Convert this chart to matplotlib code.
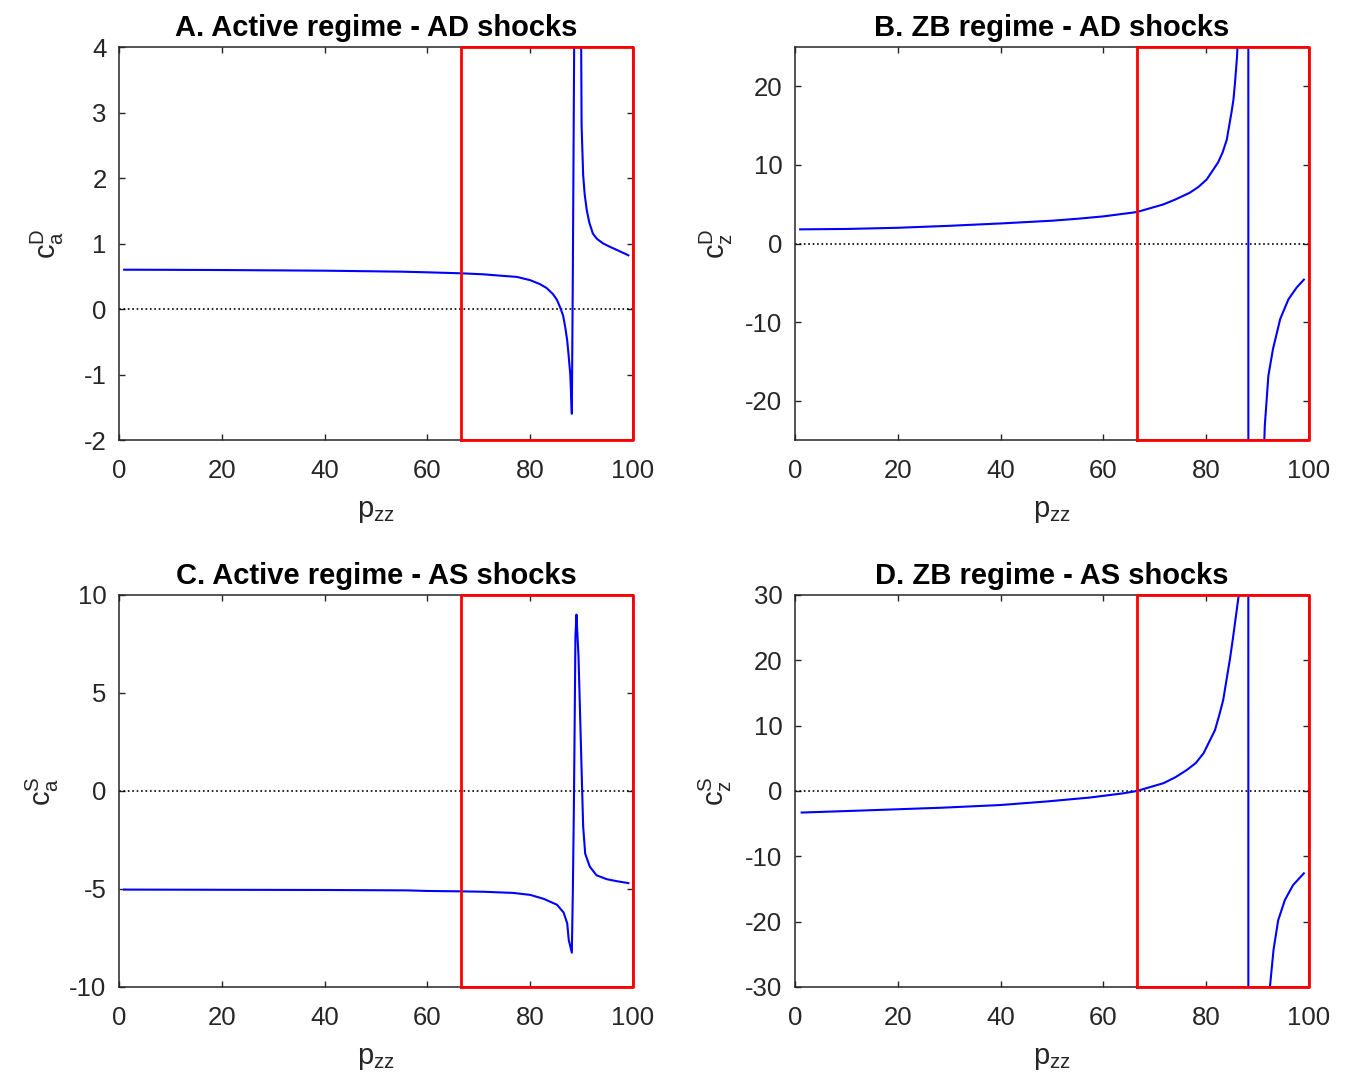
import matplotlib
matplotlib.use("Agg")
import matplotlib.pyplot as plt

plt.rcParams['font.family'] = ['Liberation Sans', 'DejaVu Sans']
plt.rcParams['mathtext.fontset'] = 'custom'
plt.rcParams['mathtext.rm'] = 'Liberation Sans'
plt.rcParams['mathtext.it'] = 'Liberation Sans'
plt.rcParams['mathtext.default'] = 'regular'
plt.rcParams['axes.unicode_minus'] = False

# panel A: active regime, AD shocks
xa = [1, 10, 20, 30, 40, 50, 55, 60, 66.5, 70.8, 74, 77.4, 80, 81.9, 83.2, 84.4,
      85.2, 85.8, 86.4, 86.8, 87.2, 87.5, 87.8, 88.1, 88.3, 88.7, 89.2, 89.85,
      90.0, 90.3, 90.6, 91.0, 91.5, 92.2, 93.0, 94.2, 95.5, 96.9, 98.0, 99.1]
ya = [0.60, 0.598, 0.595, 0.59, 0.585, 0.575, 0.57, 0.56, 0.545, 0.53, 0.51, 0.49,
      0.44, 0.38, 0.32, 0.23, 0.14, 0.03, -0.10, -0.27, -0.48, -0.73, -1.0, -1.6,
      0.6, 6.0, 9.0, 5.0, 2.8, 2.05, 1.75, 1.51, 1.32, 1.15, 1.07, 1.0, 0.95, 0.9,
      0.86, 0.82]

# panel B: ZB regime, AD shocks
xb = [1, 10, 20, 30, 40, 50, 55, 60, 66.5, 71.7, 74, 76.8, 78.5, 80.1, 82.3, 83.2,
      84.0, 84.9, 85.3, 85.6, 86.0, 86.6, 88.1, 88.3, 90.8, 91.4, 92.1, 93.0, 94.4,
      96.0, 97.6, 99.0]
yb = [1.8, 1.85, 2.0, 2.25, 2.55, 2.9, 3.15, 3.45, 4.0, 4.98, 5.6, 6.46, 7.2, 8.15,
      10.3, 11.6, 13.2, 16.6, 18.3, 20.4, 23.8, 32, 800, -790, -35, -23.2, -16.8,
      -13.4, -9.6, -7.1, -5.6, -4.6]

# panel C: active regime, AS shocks
xc = [1, 20, 40, 56, 60, 66.5, 70.9, 76.7, 80.0, 82.6, 85.2, 86.5, 87.2, 87.5,
      88.1, 88.3, 88.5, 88.65, 88.8, 89.0, 89.4, 89.7, 90.0, 90.3, 90.7, 91.6,
      92.9, 94.9, 96.8, 99.1]
yc = [-5.03, -5.04, -5.05, -5.07, -5.1, -5.12, -5.14, -5.2, -5.3, -5.5, -5.8, -6.2,
      -6.75, -7.6, -8.25, -5.05, -0.8, 3.45, 7.9, 9.0, 6.85, 3.96, 1.07, -1.8, -3.2,
      -3.86, -4.3, -4.5, -4.6, -4.7]

# panel D: ZB regime, AS shocks
xd = [1.3, 12.6, 28.8, 39.9, 49.0, 57.4, 63.9, 66.5, 71.7, 74, 76.2, 78, 79.5,
      81.7, 82.5, 83.3, 84.6, 85.1, 85.6, 86.3, 86.9, 88.1, 88.3, 91.8, 92.4, 93.1,
      94.0, 95.3, 96.9, 99.0]
yd = [-3.3, -3.0, -2.55, -2.15, -1.6, -1.0, -0.35, 0.0, 1.2, 2.1, 3.2, 4.3, 5.8,
      9.3, 11.5, 13.9, 20.1, 22.8, 25.7, 29.8, 40, 800, -800, -38, -30, -24.3,
      -19.8, -16.7, -14.4, -12.6]

titles = ["A. Active regime - AD shocks", "B. ZB regime - AD shocks",
          "C. Active regime - AS shocks", "D. ZB regime - AS shocks"]
ylabels = [r"$c_a^D$", r"$c_z^D$", r"$c_a^S$", r"$c_z^S$"]
ylims = [(-2, 4), (-25, 25), (-10, 10), (-30, 30)]
yticks = [[-2, -1, 0, 1, 2, 3, 4], [-20, -10, 0, 10, 20],
          [-10, -5, 0, 5, 10], [-30, -20, -10, 0, 10, 20, 30]]
xticks = [0, 20, 40, 60, 80, 100]
box_left = 66.5  # start of the highlighted p_zz range

series = [(xa, ya), (xb, yb), (xc, yc), (xd, yd)]

W, H = 1348, 1084
fig = plt.figure(figsize=(W / 100, H / 100), dpi=100)
# axes boxes in pixels: left, top, right, bottom
boxes = [(119, 47, 633, 440), (795, 47, 1309, 440),
         (119, 595, 633, 987), (795, 595, 1309, 987)]
ylab_x = [-0.103, -0.117, -0.112, -0.119]

dark = '#262626'
for i, (l, t, r, b) in enumerate(boxes):
    ax = fig.add_axes([l / W, 1 - b / H, (r - l) / W, (b - t) / H])
    x, y = series[i]
    lo, hi = ylims[i]
    ax.plot([0, 100], [0, 0], ':', color='black', lw=1.2)
    ax.plot(x, y, color=(0, 0, 1), lw=1.5)
    ax.plot([box_left, box_left, 100, 100, box_left], [lo, hi, hi, lo, lo],
            color='red', lw=2.0, clip_on=False, zorder=5)
    ax.set_xlim(0, 100)
    ax.set_ylim(lo, hi)
    ax.set_xticks(xticks)
    ax.set_yticks(yticks[i])
    ax.tick_params(direction='in', top=True, right=True, length=4, width=1,
                   labelsize=18.5, colors=dark)
    ax.tick_params(axis='x', pad=14)
    ax.tick_params(axis='y', pad=9)
    for s in ax.spines.values():
        s.set_color(dark)
        s.set_linewidth(1.1)
    ax.set_title(titles[i], fontsize=21, fontweight='bold', pad=8)
    ax.set_xlabel(r"$p_{zz}$", fontsize=21, color=dark, labelpad=10)
    ax.set_ylabel(ylabels[i], fontsize=21, color=dark)
    ax.yaxis.set_label_coords(ylab_x[i], 0.5)

fig.savefig("out.png", dpi=100)
